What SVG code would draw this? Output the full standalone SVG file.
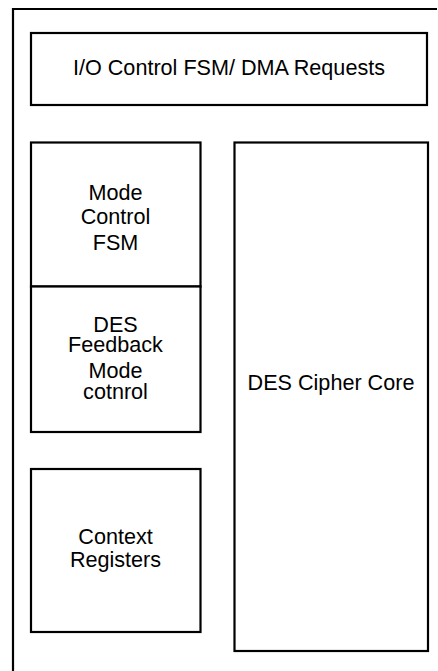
<svg xmlns="http://www.w3.org/2000/svg" width="438" height="671" viewBox="0 0 438 671">
<style>
.box{fill:#fff;stroke:#000;stroke-width:2.2}
.frame{fill:none;stroke:#000;stroke-width:2.2}
text{font-family:"Liberation Sans",Arial,sans-serif;font-size:21.6px;fill:#000;text-anchor:middle}
</style>
<rect width="438" height="671" fill="#fff"/>
<path class="frame" d="M13,671 V9 H437"/>
<g id="io-control">
<rect class="box" x="31" y="33" width="396" height="72"/>
<text x="229" y="75">I/O Control FSM/ DMA Requests</text>
</g>
<g id="mode-control">
<rect class="box" x="31" y="142.5" width="169.5" height="144"/>
<text x="115.5" y="200">Mode</text>
<text x="115.5" y="224.3">Control</text>
<text x="115.5" y="250">FSM</text>
</g>
<g id="des-feedback">
<rect class="box" x="31" y="286.5" width="169.5" height="145.5"/>
<text x="115.5" y="332.3">DES</text>
<text x="115.5" y="352.3">Feedback</text>
<text x="115.5" y="377.7">Mode</text>
<text x="115.5" y="399">cotnrol</text>
</g>
<g id="context-registers">
<rect class="box" x="31" y="469" width="169.5" height="163"/>
<text x="115.5" y="544">Context</text>
<text x="115.5" y="567.3">Registers</text>
</g>
<g id="des-cipher-core">
<rect class="box" x="234.5" y="142.5" width="193.5" height="508.5"/>
<text x="331" y="390">DES Cipher Core</text>
</g>
<g id="connectors"></g>
</svg>
